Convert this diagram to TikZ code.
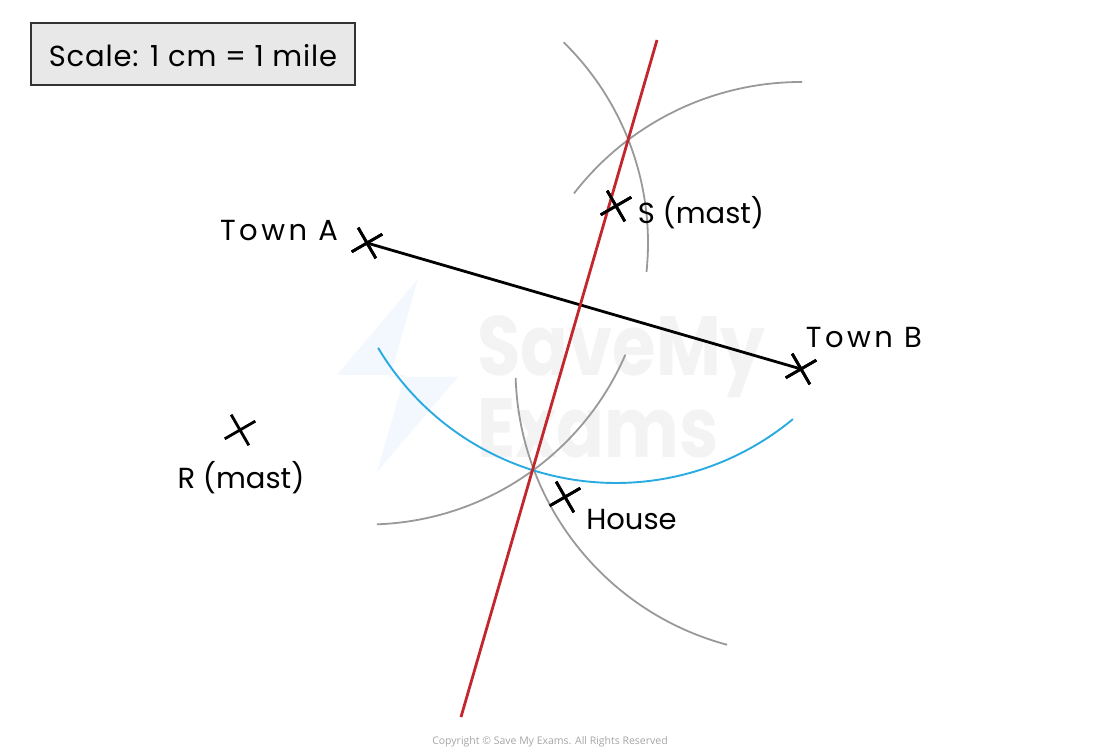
\documentclass[tikz,border=0pt]{standalone}
\usepackage{fontspec}
\usepackage{graphicx}
\setmainfont{Poppins}
\newfontfamily\cpfont{Open Sans}
\usetikzlibrary{shapes.misc}
\definecolor{redline}{RGB}{193,39,45}
\definecolor{blueline}{RGB}{41,171,226}
\definecolor{greyarc}{RGB}{153,153,153}
\definecolor{boxfill}{RGB}{232,232,232}
\definecolor{boxdraw}{RGB}{51,51,51}
\definecolor{wmgrey}{RGB}{243,243,243}
\definecolor{wmblue}{RGB}{243,247,254}
\definecolor{cpgrey}{RGB}{165,165,165}
\begin{document}
\begin{tikzpicture}[x=1pt,y=1pt,
  xmark/.style={cross out, draw=black, line width=2.8pt, minimum size=25pt, inner sep=0pt, outer sep=0pt, rotate=-15},
  lbl/.style={anchor=base, font=\fontsize{29}{34}\selectfont, inner sep=0pt},
  wide/.style={font=\fontsize{29}{34}\selectfont\addfontfeature{LetterSpace=12}},
  arcline/.style={draw=greyarc, line width=1.8pt},
  bluearc/.style={draw=blueline, line width=1.9pt},
  bisector/.style={draw=redline, line width=2.8pt},
  segment/.style={draw=black, line width=2.8pt},
  scalebox/.style={draw=boxdraw, fill=boxfill, line width=1.5pt},
  wmtext/.style={anchor=north west, inner sep=0pt, align=left, text=wmgrey, font=\fontsize{84}{65}\selectfont\bfseries}]
\useasboundingbox (0,0) rectangle (1100,752);
% watermark
\fill[wmblue] (418,473) -- (337,377) -- (405,377) -- (377,280) -- (458,375) -- (390,375) -- cycle;
\node[wmtext] (wm) at (477,437) {\scalebox{0.84}[1]{SaveMy}\\\scalebox{0.84}[1]{Exams}};
% scale box
\draw[scalebox] (31,729) rectangle (355,667);
\node[lbl, font=\fontsize{29}{34}\selectfont\addfontfeature{LetterSpace=3}] (scale) at (193,685) {Scale: 1 cm = 1 mile};
% points
\node[xmark] (A) at (367,509) {};
\node[xmark] (B) at (801,383) {};
\node[xmark] (S) at (616,546) {};
\node[xmark] (R) at (240,322) {};
\node[xmark] (H) at (565,255) {};
% construction arcs
\draw[arcline] (A.center) ++(45.6:281pt) arc[start angle=45.6, end angle=-5.9, radius=281pt];
\draw[arcline] (B.center) ++(142.3:287pt) arc[start angle=142.3, end angle=89.8, radius=287pt];
\draw[arcline] (A.center) ++(-88:281.5pt) arc[start angle=-88, end angle=-23.4, radius=281.5pt];
\draw[arcline] (B.center) ++(181.8:285.5pt) arc[start angle=181.8, end angle=255, radius=285.5pt];
\draw[bluearc] (S.center) ++(210.8:277pt) arc[start angle=210.8, end angle=309.7, radius=277pt];
% segment AB and bisector
\draw[segment] (A.center) -- (B.center);
\coordinate (r1) at (657,712);
\coordinate (r2) at (461,35);
\draw[bisector] (r1) -- (r2);
% marks on top
\node[xmark] at (A.center) {};
\node[xmark] at (B.center) {};
\node[xmark] at (S.center) {};
\node[xmark] at (H.center) {};
% labels
\node[lbl, wide] (lA) at (279,511) {Town A};
\node[lbl, wide] (lB) at (864,404) {Town B};
\node[lbl] (lS) at (701,528) {S (mast)};
\node[lbl] (lR) at (241,263) {R (mast)};
\node[lbl] (lH) at (631.5,222) {House};
\node[anchor=base, inner sep=0pt, text=cpgrey, font=\cpfont\fontsize{10.5}{12}\selectfont] (copy) at (550,7) {Copyright \textcopyright\ Save My Exams. All Rights Reserved};
\end{tikzpicture}
\end{document}
